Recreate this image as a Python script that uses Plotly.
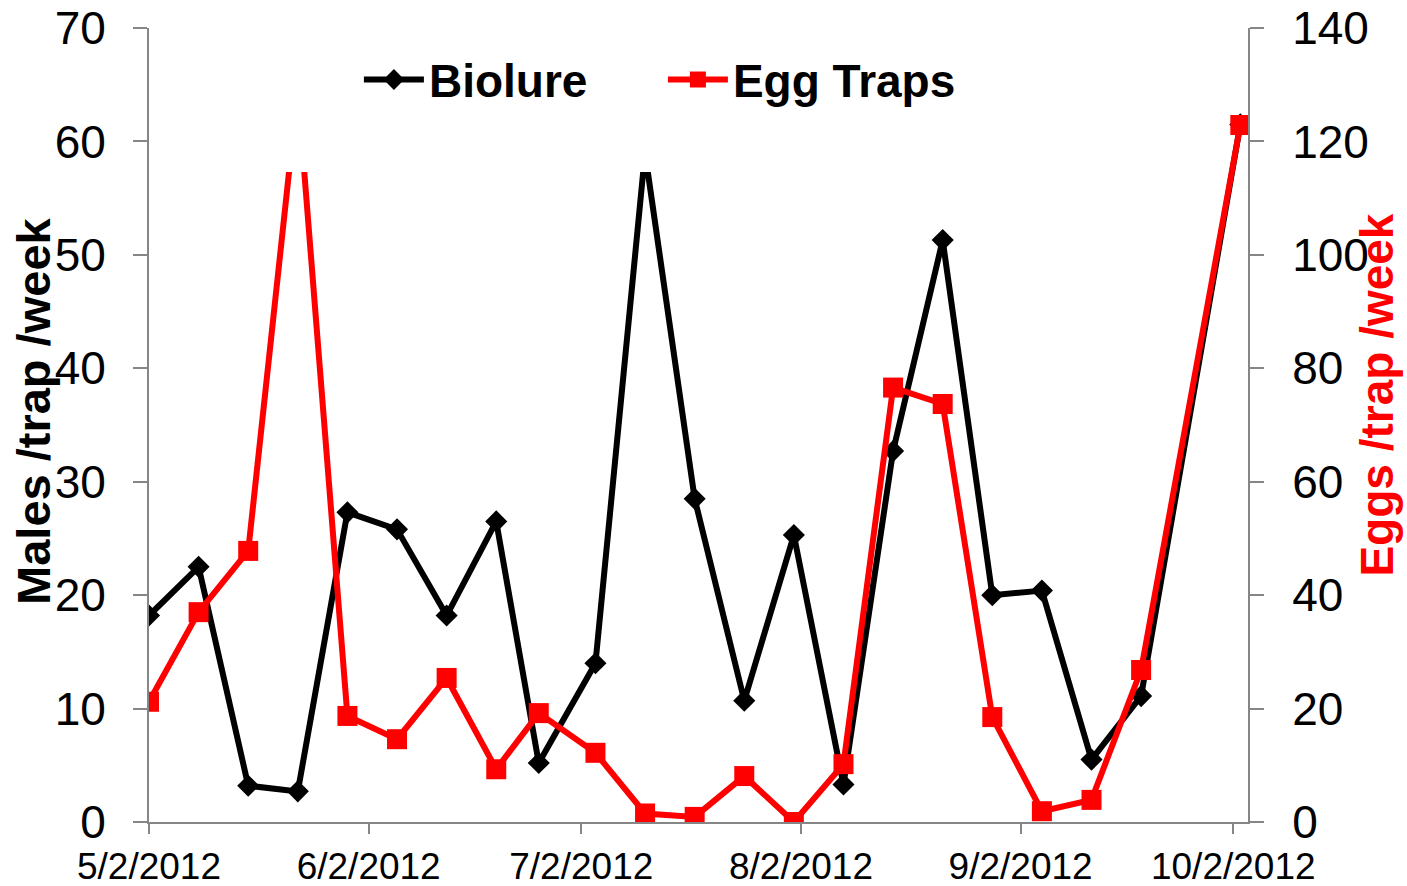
import plotly.graph_objects as go

dates = ["2012-05-02", "2012-05-09", "2012-05-16", "2012-05-23", "2012-05-30",
         "2012-06-06", "2012-06-13", "2012-06-20", "2012-06-26", "2012-07-04",
         "2012-07-11", "2012-07-18", "2012-07-25", "2012-08-01", "2012-08-08",
         "2012-08-15", "2012-08-22", "2012-08-29", "2012-09-05", "2012-09-12",
         "2012-09-19", "2012-10-03"]

biolure = [18.2, 22.5, 3.2, 2.7, 27.3, 25.8, 18.2, 26.5, 5.2, 14.0,
           59.0, 28.5, 10.7, 25.3, 3.3, 32.7, 51.3, 20.0, 20.4, 5.5,
           11.1, 61.5]

egg_traps = [21.2, 37.0, 47.8, 129.0, 18.7, 14.6, 25.4, 9.3, 19.2, 12.2,
             1.5, 0.9, 8.1, 0.0, 10.2, 76.6, 73.7, 18.5, 1.9, 3.9,
             26.8, 122.9]

tick_dates = ["2012-05-02", "2012-06-02", "2012-07-02", "2012-08-02",
              "2012-09-02", "2012-10-02"]
tick_labels = ["5/2/2012", "6/2/2012", "7/2/2012", "8/2/2012",
               "9/2/2012", "10/2/2012"]

left_ticks = [0, 10, 20, 30, 40, 50, 60, 70]
right_ticks = [0, 20, 40, 60, 80, 100, 120, 140]

FONT = "Arial, Liberation Sans, sans-serif"
GREY = "#868686"

fig = go.Figure()
fig.add_trace(go.Scatter(
    x=dates, y=biolure, name="Biolure", mode="lines+markers",
    line=dict(color="black", width=6),
    marker=dict(symbol="diamond", size=17, color="black"),
    yaxis="y"))
fig.add_trace(go.Scatter(
    x=dates, y=egg_traps, name="Egg Traps", mode="lines+markers",
    line=dict(color="#FF0000", width=6),
    marker=dict(symbol="square", size=20, color="#FF0000"),
    yaxis="y2"))

# white legend box area (as in the original, the legend box masks the peaks)
fig.add_shape(type="rect", xref="paper", yref="paper",
              x0=0.11, x1=0.774, y0=0.8186, y1=1.0,
              fillcolor="white", line=dict(width=0), layer="above")

fig.update_layout(
    width=1407, height=886,
    margin=dict(l=149, r=159, t=28, b=64, autoexpand=False),
    paper_bgcolor="white", plot_bgcolor="white",
    font=dict(family=FONT, color="black"),
    showlegend=True,
    legend=dict(orientation="h", x=0.191, xanchor="left", y=0.935, yanchor="middle",
                font=dict(family=FONT, size=46, color="black", weight="bold"),
                bgcolor="rgba(0,0,0,0)", entrywidth=229, itemwidth=60,
                traceorder="normal"),
    xaxis=dict(type="date", range=["2012-05-02", "2012-10-04 02:00"],
               tickvals=tick_dates, ticktext=tick_labels, automargin=False,
               showline=True, linecolor=GREY, linewidth=2,
               ticks="outside", ticklen=10, tickcolor=GREY, tickwidth=2,
               showgrid=False, zeroline=False, ticklabeloverflow="allow",
               tickfont=dict(family=FONT, size=37, color="black"),
               ticklabelstandoff=1),
    yaxis=dict(range=[0, 70], tickvals=left_ticks, automargin=False,
               showline=True, linecolor=GREY, linewidth=2,
               ticks="outside", ticklen=14, tickcolor=GREY, tickwidth=2,
               showgrid=False, zeroline=False, ticklabeloverflow="allow",
               tickfont=dict(family=FONT, size=46, color="black"),
               ticklabelstandoff=18),
    yaxis2=dict(range=[0, 140], tickvals=right_ticks, overlaying="y", side="right",
                automargin=False,
                showline=True, linecolor=GREY, linewidth=2,
                ticks="outside", ticklen=14, tickcolor=GREY, tickwidth=2,
                showgrid=False, zeroline=False, ticklabeloverflow="allow",
                tickfont=dict(family=FONT, size=46, color="black"),
                ticklabelstandoff=19),
)

fig.add_annotation(text="Males /trap /week", xref="paper", yref="paper",
                   x=-0.1056, y=0.5176, xanchor="center", yanchor="middle",
                   textangle=-90, showarrow=False,
                   font=dict(family=FONT, size=47, color="black", weight="bold"))
fig.add_annotation(text="Eggs /trap /week", xref="paper", yref="paper",
                   x=1.117, y=0.5378, xanchor="center", yanchor="middle",
                   textangle=-90, showarrow=False,
                   font=dict(family=FONT, size=46, color="#FF0000", weight="bold"))

fig.write_html("out.html", config={"displayModeBar": False},
               post_script="document.body.style.margin='0';document.body.style.padding='0';")
